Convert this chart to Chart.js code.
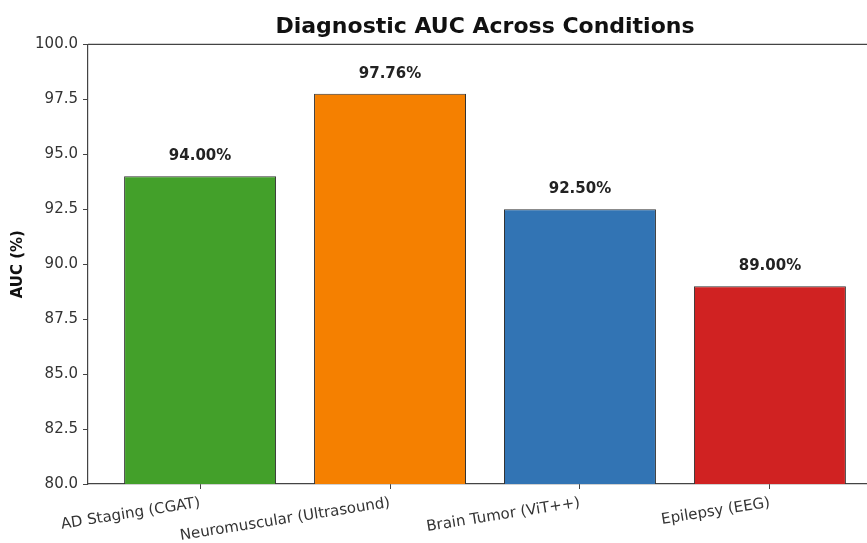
<!DOCTYPE html>
<html>
<head>
<meta charset="utf-8">
<script src="https://cdn.jsdelivr.net/npm/chart.js@4"></script>
<style>
  html, body { margin: 0; padding: 0; background: #fff; overflow: hidden; }
  #wrap { width: 882px; height: 543px; }
</style>
</head>
<body>
<div id="wrap"><canvas id="aucChart" width="882" height="543"></canvas></div>
<script>
// Data
const categories = ['AD Staging (CGAT)', 'Neuromuscular (Ultrasound)', 'Brain Tumor (ViT++)', 'Epilepsy (EEG)'];
const aucValues = [94.00, 97.76, 92.50, 89.00];
const barColors = ['#43a02a', '#f58000', '#3274b4', '#d02222'];
const yTicks = [80, 82.5, 85, 87.5, 90, 92.5, 95, 97.5, 100];

const FONT = "'DejaVu Sans', sans-serif";

// value labels above bars + top frame line
const extrasPlugin = {
    id: 'extras',
    afterDatasetsDraw(chart) {
        const ctx = chart.ctx;
        const meta = chart.getDatasetMeta(0);
        ctx.save();
        ctx.font = 'bold 15px ' + FONT;
        ctx.fillStyle = '#222';
        ctx.textAlign = 'center';
        ctx.textBaseline = 'middle';
        meta.data.forEach((bar, i) => {
            ctx.fillText(aucValues[i].toFixed(2) + '%', bar.x, bar.y - 20);
        });
        const a = chart.chartArea;
        ctx.strokeStyle = '#444';
        ctx.lineWidth = 1.2;
        ctx.beginPath();
        ctx.moveTo(a.left, a.top);
        ctx.lineTo(a.right, a.top);
        ctx.stroke();
        ctx.restore();
    }
};

const ctx = document.getElementById('aucChart').getContext('2d');
new Chart(ctx, {
    type: 'bar',
    data: {
        datasets: [{
            data: aucValues.map((v, i) => ({ x: i, y: v })),
            backgroundColor: barColors,
            borderColor: '#333',
            borderWidth: 1,
            borderSkipped: false,
            barPercentage: 0.8,
            categoryPercentage: 1.0
        }]
    },
    options: {
        responsive: false,
        animation: false,
        layout: { padding: 0 },
        plugins: {
            legend: { display: false },
            tooltip: { enabled: false },
            title: {
                display: true,
                text: 'Diagnostic AUC Across Conditions',
                fullSize: false,
                color: '#111',
                font: { family: FONT, size: 22, weight: 'bold' },
                padding: { top: 14, bottom: 4 }
            }
        },
        scales: {
            x: {
                type: 'linear',
                offset: false,
                min: -0.59,
                max: 3.59,
                afterBuildTicks: (axis) => {
                    axis.ticks = categories.map((c, i) => ({ value: i }));
                },
                afterFit: (axis) => { axis.height = 59; },
                grid: { display: true, offset: false, drawOnChartArea: false, drawTicks: true, tickLength: 5, color: '#444' },
                border: { display: true, color: '#444', width: 1.2 },
                ticks: {
                    minRotation: 9,
                    maxRotation: 9,
                    autoSkip: false,
                    padding: 5,
                    color: '#333',
                    font: { family: FONT, size: 15 },
                    callback: (v) => categories[v]
                }
            },
            y: {
                min: 80,
                max: 100,
                afterBuildTicks: (axis) => {
                    axis.ticks = yTicks.map(v => ({ value: v }));
                },
                afterFit: (axis) => { axis.width = 88; },
                grid: { display: true, drawOnChartArea: false, drawTicks: true, tickLength: 5, color: '#444' },
                border: { display: true, color: '#444', width: 1.2 },
                ticks: {
                    padding: 5,
                    color: '#333',
                    font: { family: FONT, size: 15 },
                    callback: (v) => v.toFixed(1)
                },
                title: {
                    display: true,
                    text: 'AUC (%)',
                    color: '#111',
                    font: { family: FONT, size: 15, weight: 'bold' },
                    padding: { top: 9, bottom: 0 }
                }
            }
        }
    },
    plugins: [extrasPlugin]
});
</script>
</body>
</html>
